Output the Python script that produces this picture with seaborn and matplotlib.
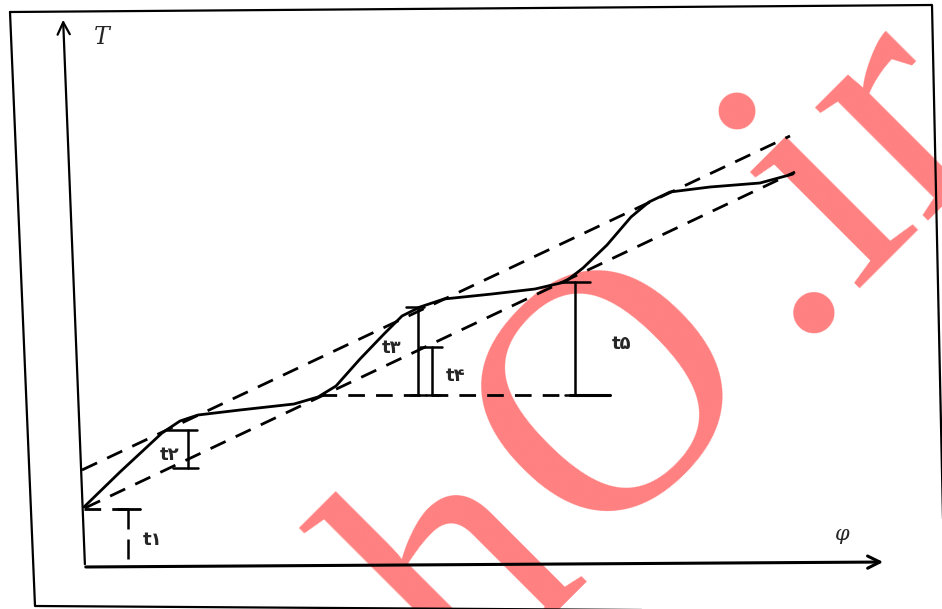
import numpy as np
import matplotlib
matplotlib.use("Agg")
import matplotlib.pyplot as plt
import seaborn as sns

sns.set_style("white")

# heating curve T(phi) (pixel-like units, y grows downward)
curve_x = [84, 120, 162, 180, 198, 240, 294, 318, 336, 360, 384, 402, 420,
           444, 492, 535, 565, 583, 607, 631, 649, 670, 710, 760, 793]
curve_y = [507, 472, 433, 421, 415, 410, 404, 397, 386, 359, 334, 316, 307,
           299, 294, 289, 282, 268, 245, 217, 202, 192, 187, 183, 174]

# the two dashed envelope lines
upper_x = [82, 790]
upper_y = [470, 136]
lower_x = [85, 795]
lower_y = [508, 172]

# horizontal dashed reference line
ref_x = [320, 570]
ref_y = [395, 395]

# interval markers
marks_x = [188, 418, 432, 575]
marks_top = [430, 307, 347, 282]
marks_bot = [468, 395, 395, 395]
labels = ["t۱", "t۲", "t۳", "t۴", "t۵"]
label_x = [153, 170, 392, 456, 622]
label_y = [540, 455, 348, 376, 344]

fig = plt.figure(figsize=(9.42, 6.09), dpi=100)
ax = fig.add_axes([0, 0, 1, 1])
ax.set_xlim(0, 942)
ax.set_ylim(609, 0)
ax.axis("off")

dash = (6, 4)

# watermark (three pieces so the spacing follows the scan)
wm = dict(rotation=45, rotation_mode="anchor", va="baseline", fontsize=250,
          family="Liberation Serif", color="#ff8080", zorder=1)
ax.text(587, 568, "eh", ha="right", **wm)
ax.text(679, 461, "O", ha="center", **wm)
ax.text(788, 338, ".ir", ha="left", **wm)

# scan frame
ax.plot([10, 932, 945, 35, 10], [12, 5, 612, 606, 12], color="black", lw=1.6, zorder=3)

# axes with arrows
ax.annotate("", xy=(63, 17), xytext=(85, 567),
            arrowprops=dict(arrowstyle="->", lw=1.6, color="black",
                            mutation_scale=22), zorder=3)
ax.annotate("", xy=(886, 562), xytext=(83, 567),
            arrowprops=dict(arrowstyle="->", lw=2.2, color="black",
                            mutation_scale=22), zorder=3)

# curve and envelopes
sns.lineplot(x=curve_x, y=curve_y, sort=False, color="black", lw=2, ax=ax, zorder=4)
ax.plot(upper_x, upper_y, color="black", lw=2, dashes=dash, zorder=4)
ax.plot(lower_x, lower_y, color="black", lw=2, dashes=dash, zorder=4)
ax.plot(ref_x, ref_y, color="black", lw=2, dashes=dash, zorder=4)
ax.plot([570, 610], [395, 395], color="black", lw=2.2, zorder=4)

# t1 marker
ax.plot([84, 140], [509, 509], color="black", lw=2, dashes=dash, zorder=4)
ax.plot([128, 128], [509, 566], color="black", lw=1.8, dashes=(8, 4), zorder=4)
ax.plot([118, 140], [509, 509], color="black", lw=2, zorder=4)

# other markers
caps = [(167, 197, 173, 198), (406, 424, 410, 426), (420, 442, 426, 440), (560, 590, 565, 590)]
for x, t, b, c in zip(marks_x, marks_top, marks_bot, caps):
    ax.plot([x, x], [t, b], color="black", lw=1.8, zorder=4)
    ax.plot([c[0], c[1]], [t, t], color="black", lw=1.8, zorder=4)
    ax.plot([c[2], c[3]], [b, b], color="black", lw=1.8, zorder=4)

for s, lx, ly in zip(labels, label_x, label_y):
    ax.text(lx, ly, s, fontsize=13, family="DejaVu Sans", weight="bold",
            ha="center", va="center", zorder=5)

ax.text(102, 38, "T", fontsize=17, family="DejaVu Serif", style="italic",
        ha="center", va="center", zorder=5)
ax.text(842, 534, "φ", fontsize=15, family="DejaVu Serif", style="italic",
        ha="center", va="center", zorder=5)

fig.savefig("out.png", dpi=100)
